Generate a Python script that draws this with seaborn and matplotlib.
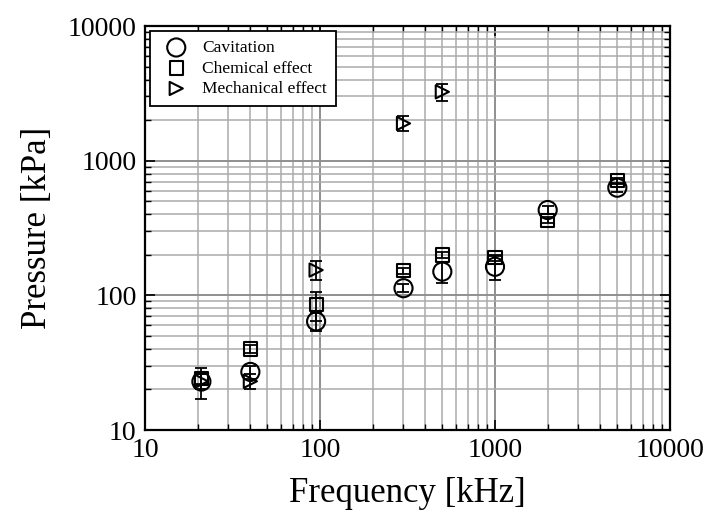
import numpy as np
import pandas as pd
import matplotlib
matplotlib.use("Agg")
import matplotlib.pyplot as plt
import seaborn as sns
from matplotlib.ticker import LogLocator, NullFormatter, FixedLocator, FixedFormatter

# ---- data ----
freq = [21, 40, 95, 300, 500, 1000, 2000, 5000]
cav_p = [22.9, 27, 64, 113, 150, 163, 430, 630]
cav_err = [6, 3, 10, 8, 27, 33, 30, 40]
chem_p = [24, 40, 85, 152, 199, 190, 362, 710]
chem_err = [2, 3, 20, 8, 10, 10, 20, 30]
mech_freq = [21, 40, 95, 300, 500]
mech_p = [23, 23, 154, 1890, 3245]
mech_err = [3, 3, 25, 240, 450]

series_names = ["Cavitation", "Chemical effect", "Mechanical effect"]
tick_vals = [10, 100, 1000, 10000]
tick_labels = ["10", "100", "1000", "10000"]

sns.set_theme(style="white")
plt.rcParams['font.family'] = ['Liberation Serif', 'DejaVu Serif']
plt.rcParams['mathtext.fontset'] = 'stix'
plt.rcParams['text.color'] = 'black'
plt.rcParams['axes.labelcolor'] = 'black'
plt.rcParams['xtick.color'] = 'black'
plt.rcParams['ytick.color'] = 'black'

fig = plt.figure(figsize=(7.07, 5.2), dpi=100)
ax = fig.add_axes([145/707, 1-430/520, (670-145)/707, (430-26)/520])

df = pd.concat([
    pd.DataFrame({"f": freq, "p": cav_p, "err": cav_err, "s": series_names[0]}),
    pd.DataFrame({"f": freq, "p": chem_p, "err": chem_err, "s": series_names[1]}),
    pd.DataFrame({"f": mech_freq, "p": mech_p, "err": mech_err, "s": series_names[2]}),
], ignore_index=True)

ax.set_xscale("log")
ax.set_yscale("log")
ax.set_xlim(10, 10000)
ax.set_ylim(10, 10000)

# grid
ax.grid(True, which="major", color="#8f8f8f", linewidth=1.4, zorder=0)
ax.grid(True, which="minor", color="#ababab", linewidth=1.1, zorder=0)
ax.set_axisbelow(True)

markers = {"Cavitation": ("o", 170), "Chemical effect": ("s", 90), "Mechanical effect": (">", 90)}
for name in series_names:
    sub = df[df["s"] == name]
    ax.errorbar(sub["f"], sub["p"], yerr=sub["err"], fmt="none", ecolor="black",
                elinewidth=1.3, capsize=4.5, capthick=1.3, zorder=3)
    m, s = markers[name]
    sns.scatterplot(data=sub, x="f", y="p", marker=m, s=s, facecolor="none",
                    edgecolor="black", linewidth=1.5, ax=ax, label=name, zorder=4)

ax.xaxis.set_major_locator(FixedLocator(tick_vals))
ax.xaxis.set_major_formatter(FixedFormatter(tick_labels))
ax.yaxis.set_major_locator(FixedLocator(tick_vals))
ax.yaxis.set_major_formatter(FixedFormatter(tick_labels))
ax.xaxis.set_minor_locator(LogLocator(base=10, subs=np.arange(2, 10)))
ax.yaxis.set_minor_locator(LogLocator(base=10, subs=np.arange(2, 10)))
ax.xaxis.set_minor_formatter(NullFormatter())
ax.yaxis.set_minor_formatter(NullFormatter())

ax.tick_params(which="both", direction="in", top=True, right=True, bottom=True, left=True,
               color="black", labelcolor="black")
ax.tick_params(which="major", length=7, width=1.2, labelsize=20, pad=6)
ax.tick_params(which="minor", length=4, width=1.0)
for sp in ax.spines.values():
    sp.set_color("black")
    sp.set_linewidth(1.6)

ax.set_xlabel("Frequency [kHz]", fontsize=25, labelpad=10, color="black")
ax.set_ylabel("Pressure [kPa]", fontsize=25, labelpad=10, color="black")

leg = ax.legend(loc="upper left", fontsize=12.5, frameon=True, fancybox=False,
                edgecolor="black", framealpha=1, borderaxespad=0.3,
                handletextpad=0.5, labelspacing=0.25, borderpad=0.5)
leg.get_frame().set_linewidth(1.3)
for t in leg.get_texts():
    t.set_color("black")
for h in leg.legend_handles:
    try:
        h.set_facecolor("none")
        h.set_edgecolor("black")
    except Exception:
        pass

fig.savefig("out.png", dpi=100)
